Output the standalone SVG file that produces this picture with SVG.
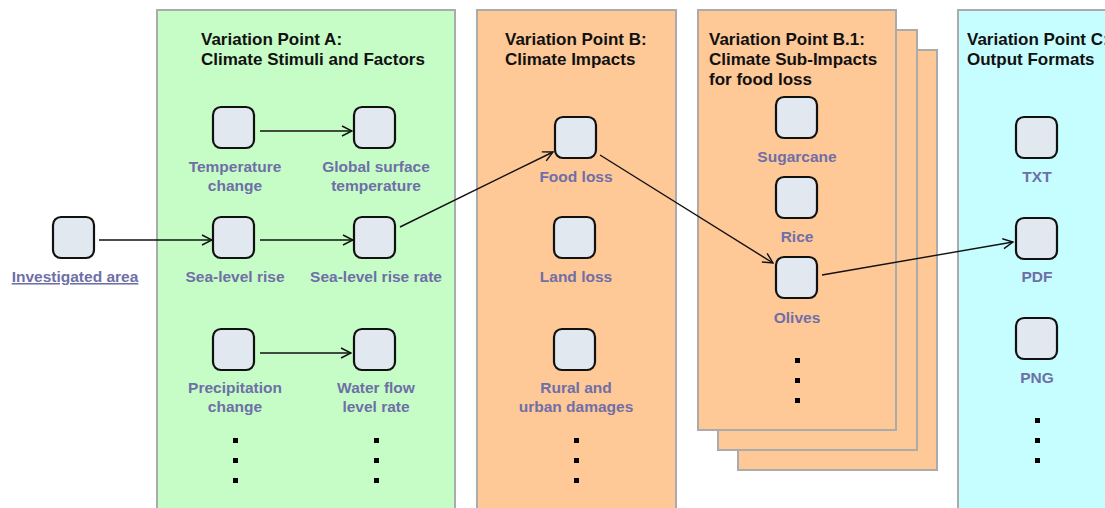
<svg xmlns="http://www.w3.org/2000/svg" width="1105" height="508" viewBox="0 0 1105 508">
  <style>
    .panel { stroke: #ababab; stroke-width: 2; }
    .pa { fill: #c6fdc6; }
    .pb { fill: #fec897; }
    .pc { fill: #c6feff; }
    .title { font-family: "Liberation Sans", Arial, sans-serif; font-weight: bold; font-size: 17px; fill: #111; }
    .node { fill: #e2e8ef; stroke: #111; stroke-width: 2.2; }
    .label { font-family: "Liberation Sans", Arial, sans-serif; font-weight: bold; font-size: 15.5px; fill: #6f6fa8; text-anchor: middle; }
    .dot { fill: #000; }
    .edge { stroke: #111; stroke-width: 1.4; fill: none; marker-end: url(#open); }
  </style>
  <defs>
    <marker id="open" viewBox="0 0 12 12" refX="11" refY="6" markerWidth="12" markerHeight="12" markerUnits="userSpaceOnUse" orient="auto">
      <path d="M1,1 L11,6 L1,11" fill="none" stroke="#111" stroke-width="1.4"/>
    </marker>
  </defs>

  <rect width="1105" height="508" fill="#fff"/>

  <!-- Panels -->
  <g id="panel-a">
    <rect class="panel pa" x="157" y="10" width="298" height="510"/>
    <text class="title" x="201" y="45">Variation Point A:</text>
    <text class="title" x="201" y="65">Climate Stimuli and Factors</text>
  </g>
  <g id="panel-b">
    <rect class="panel pb" x="477" y="10" width="199" height="510"/>
    <text class="title" x="505" y="45">Variation Point B:</text>
    <text class="title" x="505" y="65">Climate Impacts</text>
  </g>
  <g id="panel-b1">
    <rect class="panel pb" x="738" y="50" width="199" height="420"/>
    <rect class="panel pb" x="718" y="30" width="199" height="420"/>
    <rect class="panel pb" x="698" y="10" width="198" height="420"/>
    <text class="title" x="709" y="45">Variation Point B.1:</text>
    <text class="title" x="709" y="65">Climate Sub-Impacts</text>
    <text class="title" x="709" y="85">for food loss</text>
  </g>
  <g id="panel-c">
    <rect class="panel pc" x="958" y="10" width="160" height="510"/>
    <text class="title" x="967" y="45">Variation Point C:</text>
    <text class="title" x="967" y="65">Output Formats</text>
  </g>

  <!-- Connectors -->
  <g id="connectors">
    <line class="edge" x1="99" y1="240" x2="212" y2="240"/>
    <line class="edge" x1="260" y1="131" x2="352" y2="131"/>
    <line class="edge" x1="260" y1="240" x2="353" y2="240"/>
    <line class="edge" x1="260" y1="353" x2="351" y2="353"/>
    <line class="edge" x1="400" y1="227" x2="553" y2="152"/>
    <line class="edge" x1="600" y1="155" x2="773" y2="263"/>
    <line class="edge" x1="822" y1="275" x2="1013" y2="242"/>
  </g>

  <!-- Nodes -->
  <g id="investigated-area">
    <rect class="node" x="53" y="217" width="41" height="41" rx="8"/>
    <text class="label" x="75" y="282" text-decoration="underline">Investigated area</text>
  </g>
  <g id="temperature-change">
    <rect class="node" x="213" y="107" width="41" height="41" rx="8"/>
    <text class="label" x="235" y="172">Temperature</text>
    <text class="label" x="235" y="191">change</text>
  </g>
  <g id="global-surface-temperature">
    <rect class="node" x="354" y="107" width="41" height="41" rx="8"/>
    <text class="label" x="376" y="172">Global surface</text>
    <text class="label" x="376" y="191">temperature</text>
  </g>
  <g id="sea-level-rise">
    <rect class="node" x="213" y="217" width="41" height="41" rx="8"/>
    <text class="label" x="235" y="282">Sea-level rise</text>
  </g>
  <g id="sea-level-rise-rate">
    <rect class="node" x="354" y="217" width="41" height="41" rx="8"/>
    <text class="label" x="376" y="282">Sea-level rise rate</text>
  </g>
  <g id="precipitation-change">
    <rect class="node" x="213" y="329" width="41" height="41" rx="8"/>
    <text class="label" x="235" y="393">Precipitation</text>
    <text class="label" x="235" y="412">change</text>
  </g>
  <g id="water-flow-level-rate">
    <rect class="node" x="354" y="329" width="41" height="41" rx="8"/>
    <text class="label" x="376" y="393">Water flow</text>
    <text class="label" x="376" y="412">level rate</text>
  </g>
  <g id="dots-a">
    <rect class="dot" x="233" y="438" width="5" height="5"/>
    <rect class="dot" x="233" y="458" width="5" height="5"/>
    <rect class="dot" x="233" y="478" width="5" height="5"/>
    <rect class="dot" x="374" y="438" width="5" height="5"/>
    <rect class="dot" x="374" y="458" width="5" height="5"/>
    <rect class="dot" x="374" y="478" width="5" height="5"/>
  </g>

  <g id="food-loss">
    <rect class="node" x="555" y="117" width="41" height="41" rx="8"/>
    <text class="label" x="576" y="182">Food loss</text>
  </g>
  <g id="land-loss">
    <rect class="node" x="554" y="217" width="41" height="41" rx="8"/>
    <text class="label" x="576" y="282">Land loss</text>
  </g>
  <g id="rural-urban-damages">
    <rect class="node" x="554" y="329" width="41" height="41" rx="8"/>
    <text class="label" x="576" y="393">Rural and</text>
    <text class="label" x="576" y="412">urban damages</text>
  </g>
  <g id="dots-b">
    <rect class="dot" x="574" y="438" width="5" height="5"/>
    <rect class="dot" x="574" y="458" width="5" height="5"/>
    <rect class="dot" x="574" y="478" width="5" height="5"/>
  </g>

  <g id="sugarcane">
    <rect class="node" x="776" y="97" width="41" height="41" rx="8"/>
    <text class="label" x="797" y="162">Sugarcane</text>
  </g>
  <g id="rice">
    <rect class="node" x="776" y="177" width="41" height="41" rx="8"/>
    <text class="label" x="797" y="242">Rice</text>
  </g>
  <g id="olives">
    <rect class="node" x="776" y="257" width="41" height="41" rx="8"/>
    <text class="label" x="797" y="323">Olives</text>
  </g>
  <g id="dots-b1">
    <rect class="dot" x="795" y="358" width="5" height="5"/>
    <rect class="dot" x="795" y="378" width="5" height="5"/>
    <rect class="dot" x="795" y="398" width="5" height="5"/>
  </g>

  <g id="txt">
    <rect class="node" x="1016" y="117" width="41" height="41" rx="8"/>
    <text class="label" x="1037" y="182">TXT</text>
  </g>
  <g id="pdf">
    <rect class="node" x="1016" y="218" width="41" height="41" rx="8"/>
    <text class="label" x="1037" y="282">PDF</text>
  </g>
  <g id="png">
    <rect class="node" x="1016" y="318" width="41" height="41" rx="8"/>
    <text class="label" x="1037" y="383">PNG</text>
  </g>
  <g id="dots-c">
    <rect class="dot" x="1035" y="418" width="5" height="5"/>
    <rect class="dot" x="1035" y="438" width="5" height="5"/>
    <rect class="dot" x="1035" y="458" width="5" height="5"/>
  </g>
</svg>
